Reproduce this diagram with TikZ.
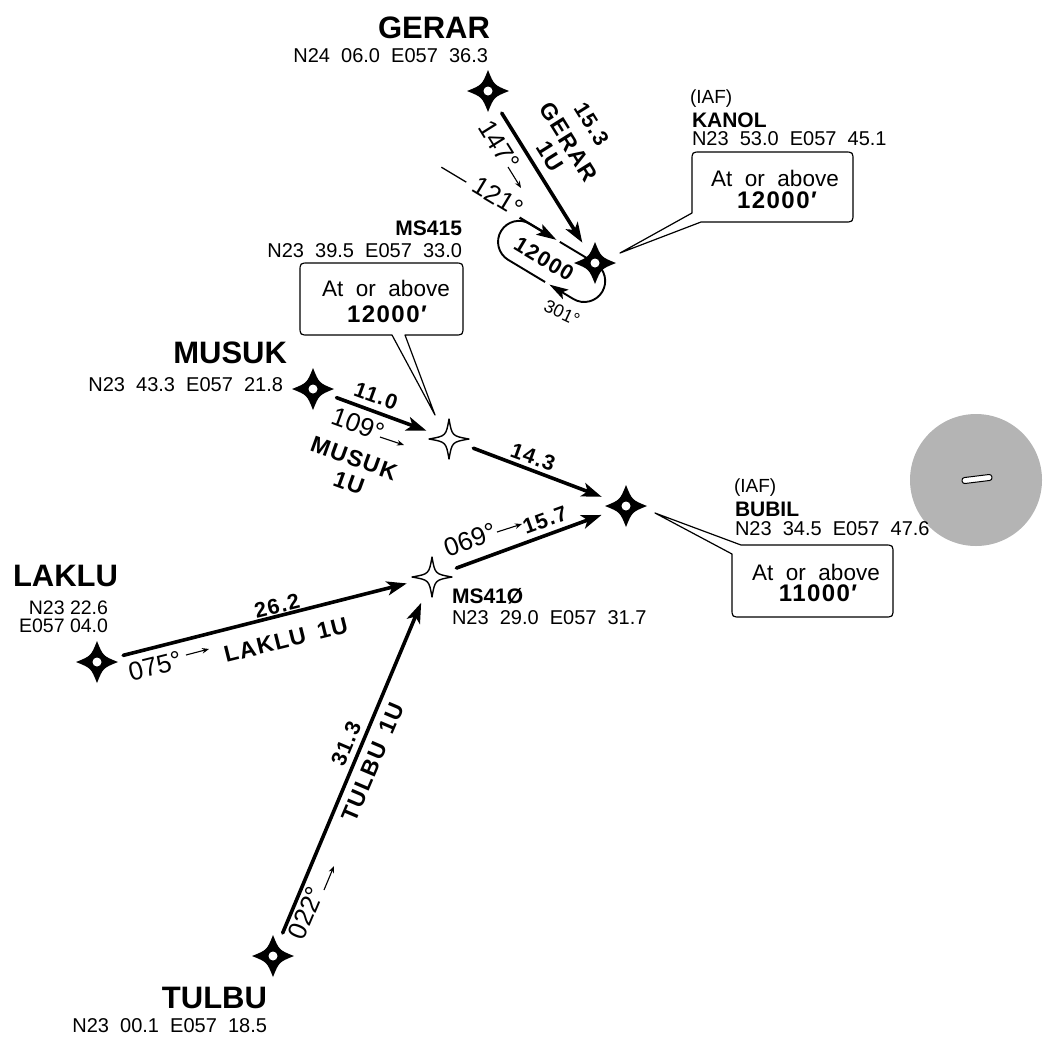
\documentclass[tikz,border=0pt]{standalone}
\usepackage{fontspec}
\setmainfont{Liberation Sans}
\newfontfamily\crdfont[WordSpace=2]{Liberation Sans}
\newfontfamily\lsfont[LetterSpace=6,WordSpace=1.6]{Liberation Sans}
\usetikzlibrary{arrows.meta}
\definecolor{circgray}{RGB}{180,180,180}
\tikzset{
  txt/.style={inner sep=0pt, outer sep=0pt},
  bigname/.style={txt, font=\fontsize{31}{31}\selectfont\bfseries},
  smname/.style={txt, font=\fontsize{21}{21}\selectfont\bfseries},
  crd/.style={txt, font=\crdfont\fontsize{20}{20}\selectfont},
  crdsm/.style={txt, font=\fontsize{19.5}{19.5}\selectfont},
  iaf/.style={txt, font=\fontsize{19}{19}\selectfont},
  dist/.style={txt, font=\lsfont\fontsize{21.5}{21.5}\selectfont\bfseries},
  rname/.style={txt, font=\lsfont\fontsize{23}{23}\selectfont\bfseries},
  crs/.style={txt, font=\fontsize{26}{26}\selectfont},
  smcrs/.style={txt, font=\fontsize{18}{18}\selectfont},
  calltxt/.style={txt, font=\crdfont\fontsize{22.5}{22.5}\selectfont},
  callnum/.style={txt, font=\lsfont\fontsize{24}{24}\selectfont\bfseries},
  route/.style={line width=3.6pt, line cap=round, -{Stealth[length=20pt,width=14pt,inset=5pt]}},
  callout/.style={line width=1.2pt, fill=white, line join=round},
  hold/.style={line width=1.9pt},
  tinyarr/.style={line width=1.1pt, -{Stealth[length=7pt,width=5.5pt]}},
  fixsym/.pic={
    \fill (0,-21) .. controls (6,-6) .. (21,0) .. controls (6,6) .. (0,21)
      .. controls (-6,6) .. (-21,0) .. controls (-6,-6) .. (0,-21) -- cycle;
    \fill[white] (0,0) circle[radius=4.5pt];
  },
  wpsym/.pic={
    \draw[line width=1.4pt, fill=white, line join=round] (0,-20) .. controls (3,-3) .. (20,0) .. controls (3,3) .. (0,20)
      .. controls (-3,3) .. (-20,0) .. controls (-3,-3) .. (0,-20) -- cycle;
  },
}
\begin{document}
\begin{tikzpicture}[x=1pt,y=-1pt]
\useasboundingbox (0,0) rectangle (1043,1042);

% waypoints
\coordinate (gerar) at (488,91);
\coordinate (kanol) at (595,263);
\coordinate (musuk) at (313,389);
\coordinate (ms415) at (449,439);
\coordinate (bubil) at (626,506);
\coordinate (ms410) at (432,577);
\coordinate (laklu) at (97,662);
\coordinate (tulbu) at (273,956);

% gray circle
\fill[circgray] (976,480) circle[radius=66pt];
\draw[fill=white, line width=1pt, rounded corners=2.5pt, rotate around={7:(977,479)}] (962,476) rectangle (992,482);

% routes
\draw[route, shorten <=26pt, shorten >=24pt] (gerar) -- (kanol);
\draw[route, shorten <=25pt, shorten >=24pt] (musuk) -- (ms415);
\draw[route, shorten <=26pt, shorten >=26pt] (ms415) -- (bubil);
\draw[route, shorten <=26pt, shorten >=26pt] (ms410) -- (bubil);
\draw[route, shorten <=27pt, shorten >=26pt] (laklu) -- (ms410);
\draw[route, shorten <=25pt, shorten >=28pt] (tulbu) -- (ms410);

% holding pattern at KANOL
\begin{scope}[shift={(595,263)}, rotate=-31]
  \draw[hold, -{Stealth[length=19pt,width=11pt,inset=4pt]}] (-41,0) -- (0,0) arc[start angle=90, end angle=-90, radius=21pt] -- (-28,42);
  \draw[hold] (-33,42) -- (-76,42) arc[start angle=270, end angle=90, radius=21pt] -- (-60,0);
  \draw[line width=2.3pt, -{Stealth[length=20pt,width=12pt,inset=4pt]}] (-88,0) -- (-45,0);
  \draw[line width=1.3pt] (-181,-3) -- (-152,-3);
\end{scope}

% symbols
\pic at (gerar) {fixsym};
\pic at (kanol) {fixsym};
\pic at (musuk) {fixsym};
\pic at (bubil) {fixsym};
\pic at (laklu) {fixsym};
\pic at (tulbu) {fixsym};
\pic at (ms415) {wpsym};
\pic at (ms410) {wpsym};

% callouts
\coordinate (kanolP) at (620,253);
\coordinate (ms415P) at (435,415);
\coordinate (bubilP) at (655,513);
\draw[callout] (701,222) -- (kanolP) -- (692,213) -- (692,161) .. controls (692,152) .. (701,152) -- (844,152) .. controls (853,152) .. (853,161) -- (853,213) .. controls (853,222) .. (844,222) -- cycle;
\node[calltxt] (kanolT1) at (775,178) {At or above};
\node[callnum] (kanolT2) at (777,200) {12000′};
\draw[callout] (405,335) -- (ms415P) -- (392,335) -- (309,335) .. controls (300,335) .. (300,326) -- (300,272) .. controls (300,263) .. (309,263) -- (454,263) .. controls (463,263) .. (463,272) -- (463,326) .. controls (463,335) .. (454,335) -- cycle;
\node[calltxt] (ms415T1) at (386,288) {At or above};
\node[callnum] (ms415T2) at (387,314) {12000′};
\draw[callout] (741,545) -- (884,545) .. controls (893,545) .. (893,554) -- (893,608) .. controls (893,617) .. (884,617) -- (741,617) .. controls (732,617) .. (732,608) -- (732,554) -- (bubilP) -- cycle;
\node[calltxt] (bubilT1) at (816,572) {At or above};
\node[callnum] (bubilT2) at (818,593) {11000′};

% fix labels
\node[bigname, anchor=east] (gerarN) at (490,28) {GERAR};
\node[crd, anchor=east] (gerarC) at (488,56) {N24 06.0 E057 36.3};
\node[iaf, anchor=west] (kanolI) at (690,99) {(IAF)};
\node[smname, anchor=west] (kanolN) at (692,120) {KANOL};
\node[crd, anchor=west] (kanolC) at (692,139) {N23 53.0 E057 45.1};
\node[smname, anchor=east] (ms415N) at (462,228) {MS415};
\node[crd, anchor=east] (ms415C) at (462,251) {N23 39.5 E057 33.0};
\node[bigname, anchor=east] (musukN) at (287,353) {MUSUK};
\node[crd, anchor=east] (musukC) at (283,385) {N23 43.3 E057 21.8};
\node[iaf, anchor=west] (bubilI) at (734,488) {(IAF)};
\node[smname, anchor=west] (bubilN) at (735,509) {BUBIL};
\node[crd, anchor=west] (bubilC) at (735,529) {N23 34.5 E057 47.6};
\node[smname, anchor=west] (ms410N) at (452,596) {MS41Ø};
\node[crd, anchor=west] (ms410C) at (452,618) {N23 29.0 E057 31.7};
\node[bigname, anchor=west] (lakluN) at (13,576) {LAKLU};
\node[crdsm, anchor=east] (lakluC1) at (108,608) {N23 22.6};
\node[crdsm, anchor=east] (lakluC2) at (108,626) {E057 04.0};
\node[bigname, anchor=east] (tulbuN) at (267,998) {TULBU};
\node[crd, anchor=east] (tulbuC) at (267,1026) {N23 00.1 E057 18.5};

% GERAR 1U labels
\node[dist, rotate=-58] (g1) at (592,124) {15.3};
\node[rname, rotate=-58] (g2) at (569,142) {GERAR};
\node[rname, rotate=-58] (g3) at (550,156) {1U};
\node[crs, rotate=-58] (g4) at (499,145) {147°};
\coordinate (g5a) at (508,167);
\coordinate (g5b) at (521,188);
\draw[tinyarr] (g5a) -- (g5b);

% holding labels
\node[crs, rotate=-31] (h1) at (498,197) {121°};
\node[dist, rotate=-31] (h2) at (544,259) {12000};
\node[smcrs, rotate=-25] (h3) at (562,313) {301°};

% MUSUK 1U labels
\node[dist, rotate=-20] (m1) at (376,396) {11.0};
\node[crs, rotate=-20] (m2) at (358,424) {109°};
\coordinate (m3a) at (380,437);
\coordinate (m3b) at (404,445);
\draw[tinyarr] (m3a) -- (m3b);
\node[rname, rotate=-20] (m4) at (354,458) {MUSUK};
\node[rname, rotate=-20] (m5) at (349,483) {1U};
\node[dist, rotate=-20] (m6) at (533,457) {14.3};

% MS410 -> BUBIL labels
\node[crs, rotate=20] (b1) at (470,540) {069°};
\coordinate (b2a) at (497,532);
\coordinate (b2b) at (522,524);
\draw[tinyarr] (b2a) -- (b2b);
\node[dist, rotate=20] (b3) at (545,520) {15.7};

% LAKLU 1U labels
\node[dist, rotate=14] (l1) at (277,606) {26.2};
\node[crs, rotate=14] (l2) at (155,666) {075°};
\coordinate (l3a) at (186,655);
\coordinate (l3b) at (209,649);
\draw[tinyarr] (l3a) -- (l3b);
\node[rname, rotate=14] (l4) at (286,640) {LAKLU 1U};

% TULBU 1U labels
\node[dist, rotate=67] (t1) at (346,744) {31.3};
\node[rname, rotate=67] (t2) at (373,762) {TULBU 1U};
\node[crs, rotate=67] (t3) at (306,913) {022°};
\coordinate (t4a) at (324,890);
\coordinate (t4b) at (334,866);
\draw[tinyarr] (t4a) -- (t4b);
\end{tikzpicture}
\end{document}
